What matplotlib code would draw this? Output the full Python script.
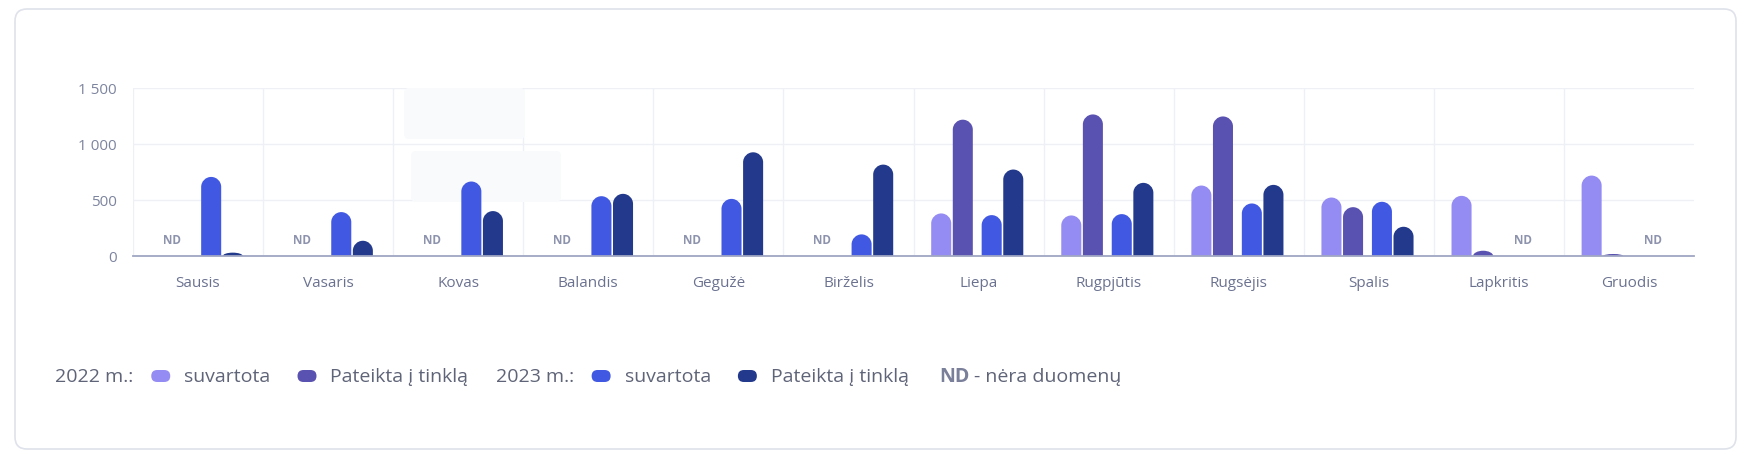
import matplotlib
matplotlib.use('Agg')
import matplotlib.pyplot as plt
from matplotlib.path import Path
from matplotlib.patches import PathPatch, FancyBboxPatch
import matplotlib.transforms as mtransforms

plt.rcParams['font.family'] = ['Open Sans', 'DejaVu Sans']

# duomenys (None = nėra duomenų)
menesiai = ['Sausis', 'Vasaris', 'Kovas', 'Balandis', 'Gegužė', 'Birželis',
            'Liepa', 'Rugpjūtis', 'Rugsėjis', 'Spalis', 'Lapkritis', 'Gruodis']
suvartota_2022 = [None, None, None, None, None, None, 380, 362, 629, 522, 537, 718]
pateikta_2022 = [None, None, None, None, None, None, 1217, 1264, 1246, 436, 47, 18]
suvartota_2023 = [706, 392, 665, 534, 510, 193, 365, 374, 469, 484, None, None]
pateikta_2023 = [30, 136, 401, 555, 926, 816, 772, 653, 635, 261, None, None]
y_ticks = [0, 500, 1000, 1500]

spalvos = ['#948cf2', '#5a52b0', '#4158e2', '#233a8c']
serijos = [suvartota_2022, pateikta_2022, suvartota_2023, pateikta_2023]
poslinkiai = [-0.287, -0.121, 0.101, 0.267]
plotis = 0.154

W, H = 1744, 456
fig = plt.figure(figsize=(W / 100, H / 100), dpi=100)
# pikseliai nuo apatinio kairio kampo
px = mtransforms.Affine2D().scale(1 / 100) + fig.dpi_scale_trans

# kortele
fig.patches.append(FancyBboxPatch((15, H - 450), 1721, 440,
                                  boxstyle='round,pad=0,rounding_size=12',
                                  transform=px, facecolor='white',
                                  edgecolor='#dfe2ea', linewidth=1.2, zorder=-5))

ax_l, ax_r, ax_t, ax_b = 133, 1694, 89, 257
ax = fig.add_axes([ax_l / W, 1 - ax_b / H, (ax_r - ax_l) / W, (ax_b - ax_t) / H])
ax.set_zorder(1)
ax.set_xlim(-0.5, len(menesiai) - 0.5)
ax.set_ylim(0, 1500)
for s in ax.spines.values():
    s.set_visible(False)
ax.patch.set_alpha(0)

# tinklelis
for y in y_ticks[1:]:
    ax.axhline(y, color='#eef0f5', lw=1, zorder=0)
for i in range(len(menesiai)):
    ax.axvline(i - 0.5, color='#eef0f5', lw=1, zorder=0)
ax.axhline(0, color='#a0a6c3', lw=1.3, zorder=3, clip_on=False)

# blankus tooltip seselis (kaip ekrano nuotraukoje)
for (bx0, by0, bx1, by1) in [(404, 89, 525, 140), (411, 152, 561, 203)]:
    ax.add_patch(FancyBboxPatch((bx0, H - by1), bx1 - bx0, by1 - by0,
                                boxstyle='round,pad=0,rounding_size=5', transform=px,
                                facecolor='#f8fafc', edgecolor='none', zorder=1,
                                clip_on=False))

# apvalintos juostos
px_x = (ax_r - ax_l) / len(menesiai)
px_y = (ax_b - ax_t) / 1500
k = 0.5523


def juosta(x, v, color):
    rx = plotis / 2
    ry = min(rx * px_x / px_y, v)
    x0, x1 = x - rx, x + rx
    verts = [(x0, 0), (x0, v - ry),
             (x0, v - ry + k * ry), (x - k * rx, v), (x, v),
             (x + k * rx, v), (x1, v - ry + k * ry), (x1, v - ry),
             (x1, 0), (x0, 0)]
    codes = [Path.MOVETO, Path.LINETO,
             Path.CURVE4, Path.CURVE4, Path.CURVE4,
             Path.CURVE4, Path.CURVE4, Path.CURVE4,
             Path.LINETO, Path.CLOSEPOLY]
    ax.add_patch(PathPatch(Path(verts, codes), facecolor=color,
                           edgecolor='none', zorder=2))


for serija, spalva, dx in zip(serijos, spalvos, poslinkiai):
    for i, v in enumerate(serija):
        if v is not None:
            juosta(i + dx, v, spalva)

# ND zymes
nd_trans = ax.transData + mtransforms.ScaledTranslation(0, 16 / 100, fig.dpi_scale_trans)
for i in range(len(menesiai)):
    if suvartota_2022[i] is None and pateikta_2022[i] is None:
        ax.text(i + (poslinkiai[0] + poslinkiai[1]) / 2, 0, 'ND', transform=nd_trans,
                ha='center', va='center', fontsize=8.5, fontweight='bold', color='#8d93ad')
    if suvartota_2023[i] is None and pateikta_2023[i] is None:
        ax.text(i + (poslinkiai[2] + poslinkiai[3]) / 2, 0, 'ND', transform=nd_trans,
                ha='center', va='center', fontsize=8.5, fontweight='bold', color='#8d93ad')

ax.set_yticks(y_ticks)
ax.set_yticklabels([f'{t:,}'.replace(',', ' ') for t in y_ticks])
ax.set_xticks(range(len(menesiai)))
ax.set_xticklabels(menesiai)
ax.tick_params(axis='y', length=0, pad=11.5, labelsize=11, labelcolor='#7d849e')
ax.tick_params(axis='x', length=0, pad=13.5, labelsize=11, labelcolor='#6b7290')

# legenda
fig.canvas.draw()
r = fig.canvas.get_renderer()
x = 55
yl = H - 377
legenda = [('2022 m.:', None), ('suvartota', spalvos[0]), ('Pateikta į tinklą', spalvos[1]),
           ('2023 m.:', None), ('suvartota', spalvos[2]), ('Pateikta į tinklą', spalvos[3])]
ankstesnis_grupe = False
for tekstas, spalva in legenda:
    if spalva is not None:
        x += 18 if ankstesnis_grupe else 27
        fig.patches.append(FancyBboxPatch((x, yl - 6), 19, 12,
                                          boxstyle='round,pad=0,rounding_size=6',
                                          transform=px, facecolor=spalva, edgecolor='none'))
        x += 19 + 14
    elif x > 60:
        x += 27
    t = fig.text(x, yl, tekstas, transform=px, ha='left', va='center',
                 fontsize=14, color='#5f6478')
    x = t.get_window_extent(r).x1
    ankstesnis_grupe = spalva is None
x += 30
t = fig.text(x, yl, 'ND', transform=px, ha='left', va='center', fontsize=14,
             fontweight='bold', color='#7a7f9a')
x = t.get_window_extent(r).x1 + 5
fig.text(x, yl, '- nėra duomenų', transform=px, ha='left', va='center',
         fontsize=14, color='#5f6478')

fig.savefig('out.png', dpi=100, facecolor='white')
